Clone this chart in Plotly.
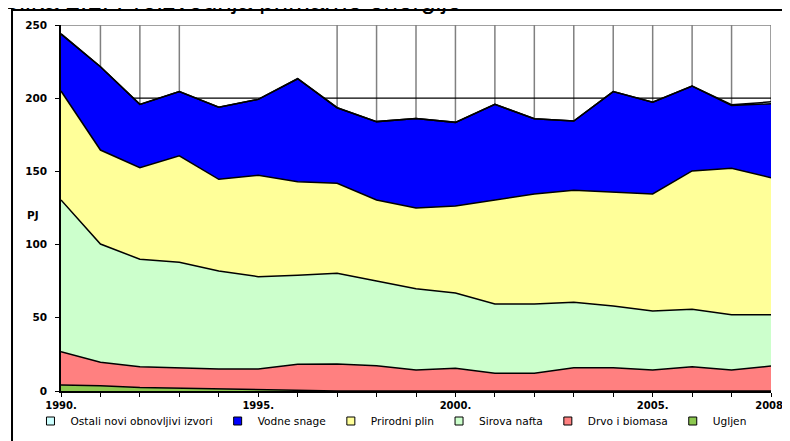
import plotly.graph_objects as go

years = list(range(1990, 2009))
labeled_years = [1990, 1995, 2000, 2005, 2008]
grid_years = [1991, 1992, 1993, 1997, 1998, 1999, 2000, 2001, 2002, 2003,
              2004, 2005, 2006, 2007, 2008]

ugljen = [4.1, 3.6, 2.4, 1.9, 1.6, 1.0, 0.3, 0, 0, 0, 0, 0, 0, 0, 0, 0, 0, 0, 0]
drvo = [22.8, 16.0, 14.2, 14.0, 13.4, 14.0, 17.9, 18.4, 17.3, 14.3, 15.5, 12.1,
        12.1, 15.9, 15.9, 14.3, 16.6, 14.3, 17.0]
nafta = [103.6, 80.8, 73.4, 72.0, 67.0, 63.1, 60.8, 62.0, 57.8, 55.5, 51.4, 47.3,
         47.3, 44.7, 42.2, 40.3, 39.2, 37.8, 35.1]
plin = [74.4, 64.2, 62.5, 72.8, 62.6, 69.2, 64.0, 61.5, 55.4, 55.2, 59.5, 71.1,
        75.2, 76.5, 77.6, 80.0, 94.5, 100.0, 93.6]
vodne = [39.0, 56.9, 43.3, 43.8, 49.2, 51.9, 70.3, 51.6, 53.5, 61.2, 57.1, 65.3,
         51.4, 47.3, 68.8, 62.6, 58.0, 43.0, 50.5]
ostali = [0, 0, 0, 0, 0, 0, 0, 0, 0, 0, 0, 0, 0, 0, 0, 0, 0, 0.4, 1.3]

series = [
    ("Ugljen", ugljen, "#8CC850"),
    ("Drvo i biomasa", drvo, "#FF8080"),
    ("Sirova nafta", nafta, "#CCFFCC"),
    ("Prirodni plin", plin, "#FFFF99"),
    ("Vodne snage", vodne, "#0000FF"),
    ("Ostali novi obnovljivi izvori", ostali, "#CCFFFF"),
]

y_ticks = [0, 50, 100, 150, 200, 250]

fig = go.Figure()
for name, vals, col in series:
    fig.add_trace(go.Scatter(
        x=years, y=vals, stackgroup="one", mode="lines",
        line=dict(color="black", width=1.5), fillcolor=col,
        name=name, showlegend=False, hoverinfo="x+y+name"))

# legend entries (top layer first)
for name, vals, col in reversed(series):
    fig.add_trace(go.Scatter(
        x=[None], y=[None], mode="markers", name=name,
        marker=dict(symbol="square", size=8, color=col,
                    line=dict(color="black", width=1))))

shapes = []
for gy in grid_years:
    shapes.append(dict(type="line", xref="x", yref="y", x0=gy, x1=gy, y0=0, y1=250,
                       line=dict(color="#808080", width=1.5), layer="below"))
shapes.append(dict(type="line", xref="x", yref="y", x0=1990, x1=2008, y0=250, y1=250,
                   line=dict(color="#808080", width=1.5), layer="below"))
shapes.append(dict(type="line", xref="x", yref="y", x0=1990, x1=2008, y0=200, y1=200,
                   line=dict(color="black", width=1.2), layer="below"))
# outer frame
shapes.append(dict(type="rect", xref="paper", yref="paper", x0=-0.069, x1=1.2,
                   y0=-0.25, y1=1.041, line=dict(color="black", width=2),
                   fillcolor="rgba(0,0,0,0)", layer="below"))

# the page body adds an 8px offset, so the figure is 782x433 to fill the window
fig.update_layout(
    width=782, height=433,
    margin=dict(l=53, r=19, t=17, b=50, autoexpand=False),
    paper_bgcolor="white", plot_bgcolor="white",
    showlegend=True,
    legend=dict(orientation="h", x=-0.043, xanchor="left",
                y=-0.082, yanchor="middle",
                font=dict(family="DejaVu Sans", size=10.6, color="black"),
                bgcolor="rgba(0,0,0,0)", traceorder="normal"),
    shapes=shapes,
    annotations=[
        dict(text="Slika 2.1. Proizvodnja primarne energije", xref="paper", yref="paper",
             x=-61 / 710, y=(391 - 17) / 366, xanchor="left", yanchor="bottom",
             showarrow=False,
             font=dict(family="Liberation Sans", size=26, color="black")),
        dict(text="PJ", xref="paper", yref="y", x=(25 - 61) / 710, y=120,
             xanchor="left", yanchor="middle", showarrow=False,
             font=dict(family="DejaVu Sans", size=10.5, color="black",
                       weight="bold"))],
    xaxis=dict(range=[1990, 2008], showline=True, linecolor="black", linewidth=1.5,
               ticks="outside", ticklen=4, tickcolor="black", tickwidth=1.2,
               tickvals=years, automargin=False,
               ticktext=[f"{y}." if y in labeled_years else "" for y in years],
               tickfont=dict(family="DejaVu Sans", size=10, color="black",
                             weight="bold"),
               showgrid=False, zeroline=False),
    yaxis=dict(range=[0, 250], showline=True, linecolor="black", linewidth=1.5,
               ticks="outside", ticklen=4, tickcolor="black", tickwidth=1.2,
               tickvals=y_ticks, ticktext=[str(v) for v in y_ticks],
               ticklabelstandoff=6, automargin=False,
               tickfont=dict(family="DejaVu Sans", size=10.5, color="black",
                             weight="bold"),
               showgrid=False, zeroline=False),
)

fig.write_html("out.html")
